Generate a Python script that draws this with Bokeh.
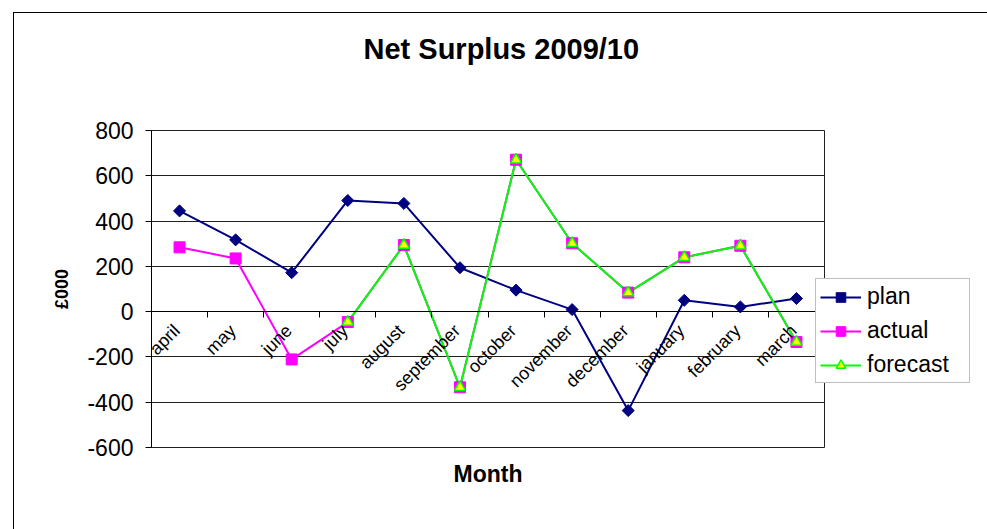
import numpy as np
from bokeh.plotting import figure
from bokeh.layouts import row
from bokeh.models import Range1d, FixedTicker, Legend, LegendItem, Title, Div
from bokeh.embed import file_html
from bokeh.resources import INLINE

# ---- data ----
months = ["april", "may", "june", "july", "august", "september",
          "october", "november", "december", "january", "february", "march"]
plan = [445, 317, 172, 491, 478, 194, 95, 9, -437, 50, 21, 58]
actual = [284, 235, -211, -46, 294, -334, 671, 302, 84, 240, 291, -134]
forecast = [np.nan, np.nan, np.nan, -46, 294, -334, 671, 302, 84, 240, 291, -134]
y_ticks = [-600, -400, -200, 0, 200, 400, 600, 800]

FONT = "Liberation Sans"
x = [i + 0.5 for i in range(len(months))]
label_pos = [i + 0.45 for i in range(len(months))]   # rotated labels sit a bit left of centre
boundaries = list(range(len(months) + 1))

p = figure(frame_width=672, frame_height=316,
           x_range=Range1d(0, len(months)), y_range=Range1d(y_ticks[0], y_ticks[-1]),
           output_backend="svg", toolbar_location=None,
           min_border_left=137, min_border_right=158, min_border_top=117, min_border_bottom=84,
           background_fill_color="white", border_fill_color="white",
           outline_line_color="#202020", outline_line_width=1, margin=0)
p.styles = {"border-left": "1px solid black", "border-top": "1px solid black"}

# title (with a blank spacer between it and the frame)
p.title.text = "Net Surplus 2009/10"
p.title.align = "left"
p.title.offset = 212
p.title.text_font = FONT
p.title.text_font_size = "29px"
p.title.text_font_style = "bold"
p.title.text_color = "black"
p.add_layout(Title(text=" ", text_font_size="10px", standoff=48), "above")

p.add_layout(Title(text="Month", align="center", text_font=FONT, text_font_size="23px",
                   text_font_style="bold", text_color="black", standoff=22), "below")

# x axis at y = 0
xa = p.xaxis[0]
xa.fixed_location = 0
xa.ticker = FixedTicker(ticks=label_pos, minor_ticks=boundaries)
xa.major_label_overrides = {xi: m for xi, m in zip(label_pos, months)}
xa.major_tick_line_color = None
xa.minor_tick_line_color = "black"
xa.minor_tick_in = 0
xa.minor_tick_out = 6
xa.axis_line_color = "black"
xa.major_label_orientation = np.pi / 4
xa.major_label_text_font = FONT
xa.major_label_text_font_size = "18px"
xa.major_label_text_color = "black"
xa.major_label_standoff = 10

# y axis
ya = p.yaxis[0]
ya.ticker = FixedTicker(ticks=y_ticks)
ya.major_label_overrides = {t: str(t) for t in y_ticks}
ya.minor_tick_line_color = None
ya.major_tick_in = 0
ya.major_tick_out = 6
ya.major_tick_line_color = "black"
ya.axis_line_color = "black"
ya.major_label_text_font = FONT
ya.major_label_text_font_size = "23px"
ya.major_label_text_color = "black"
ya.major_label_standoff = 12
ya.axis_label = "£000"
ya.axis_label_text_font = FONT
ya.axis_label_text_font_size = "18px"
ya.axis_label_text_font_style = "bold"
ya.axis_label_text_color = "black"
ya.axis_label_standoff = 12

p.xgrid.visible = False
p.ygrid.ticker = FixedTicker(ticks=y_ticks)
p.ygrid.grid_line_color = "#202020"
p.ygrid.grid_line_width = 1

# series
l_plan = p.line(x, plan, line_color="#000080", line_width=2)
l_act = p.line(x, actual, line_color="#FF00FF", line_width=2)
l_fc = p.line(x, forecast, line_color="#00FF00", line_width=2)
s_plan = p.scatter(x, plan, marker="square", angle=np.pi / 4, size=8.5,
                   fill_color="#000080", line_color="#000080")
s_act = p.scatter(x, actual, marker="square", size=11, fill_color="#FF00FF", line_color="#FF00FF")
s_fc = p.scatter(x, forecast, marker="triangle", size=11, fill_color="#FFFF00",
                 line_color="#00FF00", line_width=1.5)

legend = Legend(items=[LegendItem(label="plan", renderers=[l_plan, s_plan]),
                       LegendItem(label="actual", renderers=[l_act, s_act]),
                       LegendItem(label="forecast", renderers=[l_fc, s_fc])],
                location=(-9, 64), margin=0, padding=4, spacing=7,
                glyph_width=41, glyph_height=24, label_height=24, label_width=98,
                label_standoff=6,
                label_text_font=FONT, label_text_font_size="23px", label_text_color="black",
                border_line_color="#808080", border_line_width=1,
                background_fill_color="white", background_fill_alpha=1)
p.add_layout(legend, "right")

# thin element acting as the chart's right border
edge = Div(text="", width=2, height=517, margin=0, styles={"background-color": "#404040"})

layout = row(p, edge, margin=(12, 0, 0, 13))

open("out.html", "w").write(file_html(layout, INLINE))
